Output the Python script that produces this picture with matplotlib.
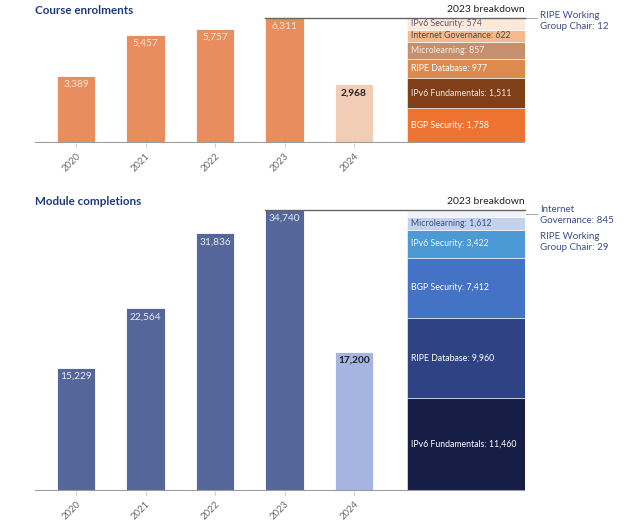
import matplotlib
matplotlib.use("Agg")
import matplotlib.pyplot as plt

plt.rcParams['font.family'] = ['Lato', 'DejaVu Sans']

years = ["2020", "2021", "2022", "2023", "2024"]

enrol_values = [3389, 5457, 5757, 6311, 2968]
enrol_break_labels = ["BGP Security", "IPv6 Fundamentals", "RIPE Database", "Microlearning",
                      "Internet Governance", "IPv6 Security", "RIPE Working\nGroup Chair"]
enrol_break_values = [1758, 1511, 977, 857, 622, 574, 12]

comp_values = [15229, 22564, 31836, 34740, 17200]
comp_break_labels = ["IPv6 Fundamentals", "RIPE Database", "BGP Security", "IPv6 Security",
                     "Microlearning", "Internet\nGovernance", "RIPE Working\nGroup Chair"]
comp_break_values = [11460, 9960, 7412, 3422, 1612, 845, 29]

W, H = 640, 524
fig = plt.figure(figsize=(W / 100, H / 100), dpi=100)

NAVY = "#1f3a7a"
SPACING = 69.5
X0 = 76.0


def px2x(px):
    return (px - X0) / SPACING


def make_axes(top_px, bottom_px):
    left_px, right_px = 35, 525
    ax = fig.add_axes([left_px / W, 1 - bottom_px / H, (right_px - left_px) / W,
                       (bottom_px - top_px) / H])
    ax.set_xlim(px2x(left_px), px2x(right_px))
    for s in ax.spines.values():
        s.set_visible(False)
    ax.set_yticks([])
    return ax


def draw_panel(ax, values, main_col, last_col, lab_col, blabels, bvals, bcols, btext_cols,
               title, title_y, ext_labels):
    total = sum(bvals)
    ax.set_ylim(0, values[3])
    xs = list(range(len(values)))
    cols = [main_col] * 4 + [last_col]
    ax.bar(xs, values, width=0.55, color=cols, edgecolor="white", linewidth=0.6, zorder=2)
    for i, v in enumerate(values):
        last = i == len(values) - 1
        ax.annotate(f"{v:,}", (i, v), xytext=(0, -3), textcoords="offset points",
                    ha="center", va="top", fontsize=7.3,
                    color="#222222" if last else lab_col,
                    fontweight="bold" if last else "normal", zorder=3)
    # breakdown stack
    bx = (px2x(407) + px2x(525)) / 2
    bw = px2x(525) - px2x(407)
    bottom = 0
    for lab, v, c, tc in zip(blabels, bvals, bcols, btext_cols):
        ax.bar(bx, v, width=bw, bottom=bottom, color=c, edgecolor="white", linewidth=0.4, zorder=2)
        if tc is not None:
            ax.text(px2x(411), bottom + v / 2, f"{lab}: {v:,}", ha="left", va="center",
                    fontsize=6.3, color=tc, zorder=3)
        bottom += v
    ax.set_xticks(xs)
    ax.set_xticklabels(years, rotation=45, ha="right", rotation_mode="anchor",
                       fontsize=6.8, color="#666666")
    ax.tick_params(axis="x", length=3, color="#cccccc", pad=3)
    ax.axhline(0, color="#9a9a9a", lw=1.5, zorder=4)
    ax.plot([px2x(265), px2x(525)], [total, total], color="#666666", lw=1.0, zorder=4,
            clip_on=False)
    ax.annotate("2023 breakdown", (px2x(525), total), xytext=(0, 3), textcoords="offset points",
                ha="right", va="bottom", fontsize=7.5, color="#222222")
    fig.text(35 / W, 1 - title_y / H, title, ha="left", va="center", fontsize=8.4,
             fontweight="bold", color=NAVY)
    for lab, v, ypx, conn_y in ext_labels:
        fig.text(540 / W, 1 - ypx / H, f"{lab}: {v:,}", ha="left", va="center",
                 fontsize=7, color="#3c4d85", linespacing=1.25)
        if conn_y is not None:
            ax.plot([px2x(526), px2x(537)], [conn_y, conn_y], color="#aaaaaa", lw=0.8,
                    clip_on=False)


ax1 = make_axes(18, 143)
enrol_cols = ["#ed7330", "#7f4019", "#de8a4c", "#c4906e", "#f4b98c", "#fde8da", "#fde8da"]
enrol_tcols = ["white", "#f3e6dc", "white", "#f6ece4", "#4a4a4a", "#505a80", None]
draw_panel(ax1, enrol_values, "#e88e5e", "#f0cdb4", "#f6e6da", enrol_break_labels,
           enrol_break_values, enrol_cols, enrol_tcols, "Course enrolments", 10,
           [(enrol_break_labels[6], enrol_break_values[6], 21, sum(enrol_break_values))])

ax2 = make_axes(210, 491)
comp_cols = ["#161e45", "#2f4384", "#4472c4", "#4b9ad6", "#c6d2ea", "#eef2fa", "#eef2fa"]
comp_tcols = ["white", "white", "white", "#eef4fb", "#3c4d85", None, None]
ig_mid = sum(comp_break_values[:5]) + comp_break_values[5] / 2
draw_panel(ax2, comp_values, "#55669a", "#a5b4e0", "#e8ecf5", comp_break_labels,
           comp_break_values, comp_cols, comp_tcols, "Module completions", 201,
           [(comp_break_labels[5], comp_break_values[5], 215, ig_mid),
            (comp_break_labels[6], comp_break_values[6], 242, None)])

fig.savefig("out.png", dpi=100)
